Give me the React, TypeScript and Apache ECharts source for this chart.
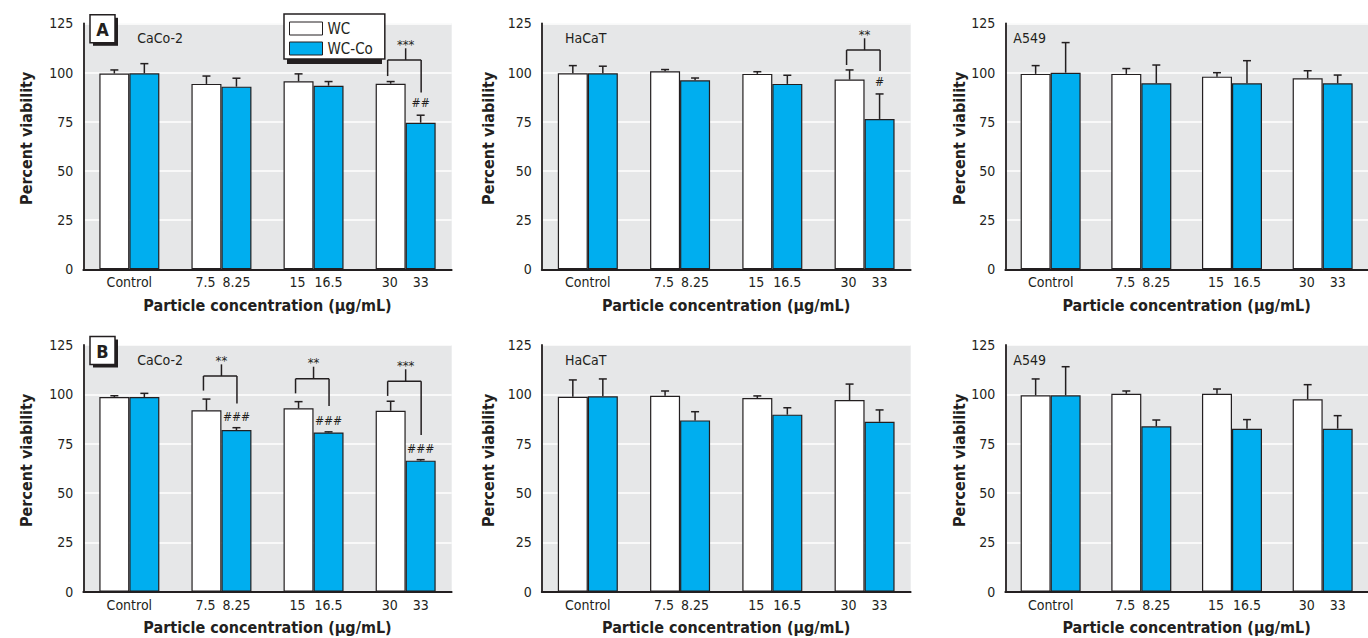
import React, { useEffect, useRef } from 'react';
import * as echarts from 'echarts';

// ---------- data ----------
const wcDoses = ['Control', '7.5', '15', '30'];
const wcCoDoses = ['', '8.25', '16.5', '33'];
const seriesNames = ['WC', 'WC-Co'];
const cellLines = ['CaCo-2', 'HaCaT', 'A549'];
const panelLetters = ['A', 'B'];
const yTicks = [0, 25, 50, 75, 100, 125];

// Panel A (row 0)
const aCaco2Wc = [99.5, 94.2, 95.5, 94.3];
const aCaco2WcSd = [1.8, 4.0, 3.8, 1.1];
const aCaco2Co = [99.6, 92.8, 93.3, 74.5];
const aCaco2CoSd = [4.9, 4.3, 2.1, 3.8];
const aHacatWc = [99.6, 100.6, 99.3, 96.4];
const aHacatWcSd = [3.9, 0.9, 1.1, 4.9];
const aHacatCo = [99.6, 96.0, 94.2, 76.4];
const aHacatCoSd = [3.6, 1.2, 4.4, 12.7];
const aA549Wc = [99.3, 99.3, 97.9, 97.1];
const aA549WcSd = [4.2, 2.7, 2.0, 3.8];
const aA549Co = [99.9, 94.5, 94.5, 94.5];
const aA549CoSd = [15.3, 9.3, 11.5, 4.2];

// Panel B (row 1)
const bCaco2Wc = [98.6, 91.9, 92.9, 91.7];
const bCaco2WcSd = [0.7, 5.7, 3.4, 4.8];
const bCaco2Co = [98.6, 81.9, 80.7, 66.4];
const bCaco2CoSd = [1.9, 1.2, 0.3, 0.5];
const bHacatWc = [98.8, 99.3, 98.1, 97.1];
const bHacatWcSd = [8.5, 2.4, 1.1, 8.1];
const bHacatCo = [99.0, 86.8, 89.7, 86.1];
const bHacatCoSd = [8.8, 4.4, 3.5, 6.0];
const bA549Wc = [99.5, 100.3, 100.3, 97.5];
const bA549WcSd = [8.3, 1.4, 2.4, 7.4];
const bA549Co = [99.5, 83.8, 82.6, 82.6];
const bA549CoSd = [14.5, 3.2, 4.6, 6.6];

// significance brackets: [category, left leg bottom, bar level, right leg bottom, stub top]
const aCaco2Brackets = [[3, 98.2, 106.4, 89.8, 112.3]];
const aCaco2Stars = ['***'];
const aHacatBrackets = [[3, 103.8, 111.4, 100.8, 117.4]];
const aHacatStars = ['**'];
const bCaco2Brackets = [
  [1, 101.9, 109.3, 95.4, 115.2],
  [2, 100.5, 107.9, 94.1, 114.0],
  [3, 99.2, 106.6, 79.4, 112.7],
];
const bCaco2Stars = ['**', '**', '***'];
// hash marks over WC-Co bars: [category, level]
const aCaco2Hash = [[3, 84.3]];
const aCaco2HashText = ['##'];
const aHacatHash = [[3, 95.4]];
const aHacatHashText = ['#'];
const bCaco2Hash = [[1, 88.3], [2, 86.7], [3, 72.5]];
const bCaco2HashText = ['###', '###', '###'];

// ---------- layout / style ----------
const FONT = "'Liberation Sans Narrow', 'Arial Narrow', 'DejaVu Sans Condensed', 'Roboto Condensed', 'Liberation Sans', sans-serif";
const INK = '#231F20';
const GRAY = '#E6E7E8';
const BLUE = '#00AEEF';
const colLeft = [83.3, 541.7, 1005.3];
const colWidth = [368.4, 369, 368];
const rowTop = [23.3, 345];
const rowHeight = [246, 246.7];
const yNameGap = [49, 45, 38];
const cellLabelDx = [54, 23.3, 8];
const BAR_W = 30;
const TICK_FS = 14;
const NAME_FS = 16;

type Panel = {
  row: number; col: number;
  wc: number[]; wcSd: number[]; co: number[]; coSd: number[];
  brackets: number[][]; stars: string[]; hash: number[][]; hashText: string[];
};

const panels: Panel[] = [
  { row: 0, col: 0, wc: aCaco2Wc, wcSd: aCaco2WcSd, co: aCaco2Co, coSd: aCaco2CoSd, brackets: aCaco2Brackets, stars: aCaco2Stars, hash: aCaco2Hash, hashText: aCaco2HashText },
  { row: 0, col: 1, wc: aHacatWc, wcSd: aHacatWcSd, co: aHacatCo, coSd: aHacatCoSd, brackets: aHacatBrackets, stars: aHacatStars, hash: aHacatHash, hashText: aHacatHashText },
  { row: 0, col: 2, wc: aA549Wc, wcSd: aA549WcSd, co: aA549Co, coSd: aA549CoSd, brackets: [], stars: [], hash: [], hashText: [] },
  { row: 1, col: 0, wc: bCaco2Wc, wcSd: bCaco2WcSd, co: bCaco2Co, coSd: bCaco2CoSd, brackets: bCaco2Brackets, stars: bCaco2Stars, hash: bCaco2Hash, hashText: bCaco2HashText },
  { row: 1, col: 1, wc: bHacatWc, wcSd: bHacatWcSd, co: bHacatCo, coSd: bHacatCoSd, brackets: [], stars: [], hash: [], hashText: [] },
  { row: 1, col: 2, wc: bA549Wc, wcSd: bA549WcSd, co: bA549Co, coSd: bA549CoSd, brackets: [], stars: [], hash: [], hashText: [] },
];

const errRender = (off: number) => (params: any, api: any) => {
  const k = api.value(0);
  const m = api.value(1);
  const s = api.value(2);
  const b = api.coord([k, m]);
  const t = api.coord([k, m + s]);
  const x = b[0] + off;
  const st = { stroke: INK, lineWidth: 1.5 };
  return {
    type: 'group',
    children: [
      { type: 'line', shape: { x1: x, y1: b[1], x2: x, y2: t[1] }, style: st },
      { type: 'line', shape: { x1: x - 4, y1: t[1], x2: x + 4, y2: t[1] }, style: st },
    ],
  };
};

const bracketRender = (stars: string[]) => (params: any, api: any) => {
  const k = api.value(0);
  const c = api.coord([k, api.value(2)]);
  const yl = api.coord([k, api.value(1)])[1];
  const yr = api.coord([k, api.value(3)])[1];
  const ys = api.coord([k, api.value(4)])[1];
  const xl = c[0] - 18;
  const xr = c[0] + 15.5;
  const xc = c[0];
  const st = { stroke: INK, lineWidth: 1.5 };
  return {
    type: 'group',
    children: [
      { type: 'line', shape: { x1: xl, y1: yl, x2: xl, y2: c[1] }, style: st },
      { type: 'line', shape: { x1: xl, y1: c[1], x2: xr, y2: c[1] }, style: st },
      { type: 'line', shape: { x1: xr, y1: c[1], x2: xr, y2: yr }, style: st },
      { type: 'line', shape: { x1: xc, y1: c[1], x2: xc, y2: ys }, style: st },
      {
        type: 'text',
        style: {
          text: stars[params.dataIndex], x: xc, y: ys - 4,
          align: 'center', verticalAlign: 'middle', textAlign: 'center', textVerticalAlign: 'middle',
          fontSize: 13, fontFamily: FONT, fill: INK,
        },
      },
    ],
  };
};

const hashRender = (texts: string[]) => (params: any, api: any) => {
  const k = api.value(0);
  const p = api.coord([k, api.value(1)]);
  return {
    type: 'text',
    style: {
      text: texts[params.dataIndex], x: p[0] + 15, y: p[1],
      align: 'center', verticalAlign: 'middle', textAlign: 'center', textVerticalAlign: 'middle',
      fontSize: 12, fontStyle: 'italic', fontFamily: FONT, fill: INK,
    },
  };
};

function buildOption() {
  const grid: any[] = [];
  const xAxis: any[] = [];
  const yAxis: any[] = [];
  const series: any[] = [];
  const graphic: any[] = [];

  panels.forEach((p, i) => {
    grid.push({
      left: colLeft[p.col], width: colWidth[p.col], top: rowTop[p.row], height: rowHeight[p.row],
      show: true, backgroundColor: GRAY, borderWidth: 0, containLabel: false,
    });
    xAxis.push({
      type: 'category', gridIndex: i, data: wcDoses,
      axisLine: { lineStyle: { color: INK, width: 1.8 } },
      axisTick: { show: false },
      axisLabel: {
        margin: 6, color: INK, fontSize: TICK_FS, fontFamily: FONT, interval: 0,
        formatter: (v: string, idx: number) => (idx === 0 ? `{c|${v}}` : `{w|${wcDoses[idx]}}{k|${wcCoDoses[idx]}}`),
        rich: {
          c: { fontSize: TICK_FS, fontFamily: FONT, color: INK },
          w: { width: 30, align: 'center', fontSize: TICK_FS, fontFamily: FONT, color: INK },
          k: { width: 32, align: 'center', fontSize: TICK_FS, fontFamily: FONT, color: INK },
        },
      },
      name: 'Particle concentration (µg/mL)', nameLocation: 'middle', nameGap: 28,
      nameTextStyle: { fontSize: NAME_FS, fontWeight: 'bold', fontFamily: FONT, color: INK },
    });
    yAxis.push({
      type: 'value', gridIndex: i, min: yTicks[0], max: yTicks[yTicks.length - 1], interval: 25,
      axisLine: { show: true, lineStyle: { color: INK, width: 1.8 } },
      axisTick: { show: false },
      splitLine: { show: true, lineStyle: { color: '#FFFFFF', width: 1.5 } },
      axisLabel: { margin: 10, color: INK, fontSize: TICK_FS, fontFamily: FONT },
      name: 'Percent viability', nameLocation: 'middle', nameGap: yNameGap[p.col],
      nameTextStyle: { fontSize: NAME_FS, fontWeight: 'bold', fontFamily: FONT, color: INK, padding: [0, 0, 0, 16] },
    });
    series.push({
      type: 'bar', name: seriesNames[0], xAxisIndex: i, yAxisIndex: i, data: p.wc,
      barWidth: BAR_W, barGap: '0%',
      itemStyle: { color: '#FFFFFF', borderColor: INK, borderWidth: 1.2 },
    });
    series.push({
      type: 'bar', name: seriesNames[1], xAxisIndex: i, yAxisIndex: i, data: p.co,
      barWidth: BAR_W, barGap: '0%',
      itemStyle: { color: BLUE, borderColor: INK, borderWidth: 1.2 },
    });
    series.push({
      type: 'custom', xAxisIndex: i, yAxisIndex: i, z: 3, silent: true,
      data: p.wc.map((v, k) => [k, v, p.wcSd[k]]), renderItem: errRender(-BAR_W / 2),
    });
    series.push({
      type: 'custom', xAxisIndex: i, yAxisIndex: i, z: 3, silent: true,
      data: p.co.map((v, k) => [k, v, p.coSd[k]]), renderItem: errRender(BAR_W / 2),
    });
    if (p.brackets.length) {
      series.push({
        type: 'custom', xAxisIndex: i, yAxisIndex: i, z: 3, silent: true,
        data: p.brackets, renderItem: bracketRender(p.stars),
      });
    }
    if (p.hash.length) {
      series.push({
        type: 'custom', xAxisIndex: i, yAxisIndex: i, z: 3, silent: true,
        data: p.hash, renderItem: hashRender(p.hashText),
      });
    }
    graphic.push({
      type: 'text', z: 5,
      style: {
        text: cellLines[p.col], x: colLeft[p.col] + cellLabelDx[p.col], y: rowTop[p.row] + 14.5,
        align: 'left', verticalAlign: 'middle', textAlign: 'left', textVerticalAlign: 'middle',
        fontSize: TICK_FS, fontFamily: FONT, fill: INK,
      },
    });
  });

  // panel letters
  panelLetters.forEach((letter, r) => {
    const y0 = rowTop[r] - 8.5;
    graphic.push({ type: 'rect', z: 5, shape: { x: 93, y: y0 + 3, width: 25, height: 28 }, style: { fill: INK } });
    graphic.push({ type: 'rect', z: 6, shape: { x: 90, y: y0, width: 25, height: 28 }, style: { fill: '#FFFFFF', stroke: INK, lineWidth: 1.5 } });
    graphic.push({
      type: 'text', z: 7,
      style: {
        text: letter, x: 102.5, y: y0 + 14.5,
        align: 'center', verticalAlign: 'middle', textAlign: 'center', textVerticalAlign: 'middle',
        fontSize: 18, fontWeight: 'bold', fontFamily: FONT, fill: INK,
      },
    });
  });
  // legend shadow
  graphic.push({ type: 'rect', z: 3, shape: { x: 287, y: 17, width: 95, height: 47 }, style: { fill: INK } });

  return {
    animation: false,
    textStyle: { fontFamily: FONT },
    grid, xAxis, yAxis, series, graphic,
    legend: {
      data: seriesNames, orient: 'vertical', left: 284, top: 14, z: 4,
      padding: [7, 12, 3, 5], itemWidth: 33, itemHeight: 13, itemGap: 5, icon: 'rect',
      backgroundColor: '#FFFFFF', borderColor: INK, borderWidth: 1.5, borderRadius: 0,
      itemStyle: { borderColor: INK, borderWidth: 1 },
      textStyle: { fontSize: 15, color: INK, fontFamily: FONT },
      selectedMode: false,
    },
  };
}

export default function App() {
  const ref = useRef<HTMLDivElement>(null);
  useEffect(() => {
    if (!ref.current) return;
    const chart = echarts.init(ref.current, undefined, { renderer: 'svg' });
    chart.setOption(buildOption() as any);
    return () => chart.dispose();
  }, []);
  return <div ref={ref} style={{ position: 'absolute', left: 0, top: 0, width: 1368, height: 638, background: '#FFFFFF' }} />;
}
